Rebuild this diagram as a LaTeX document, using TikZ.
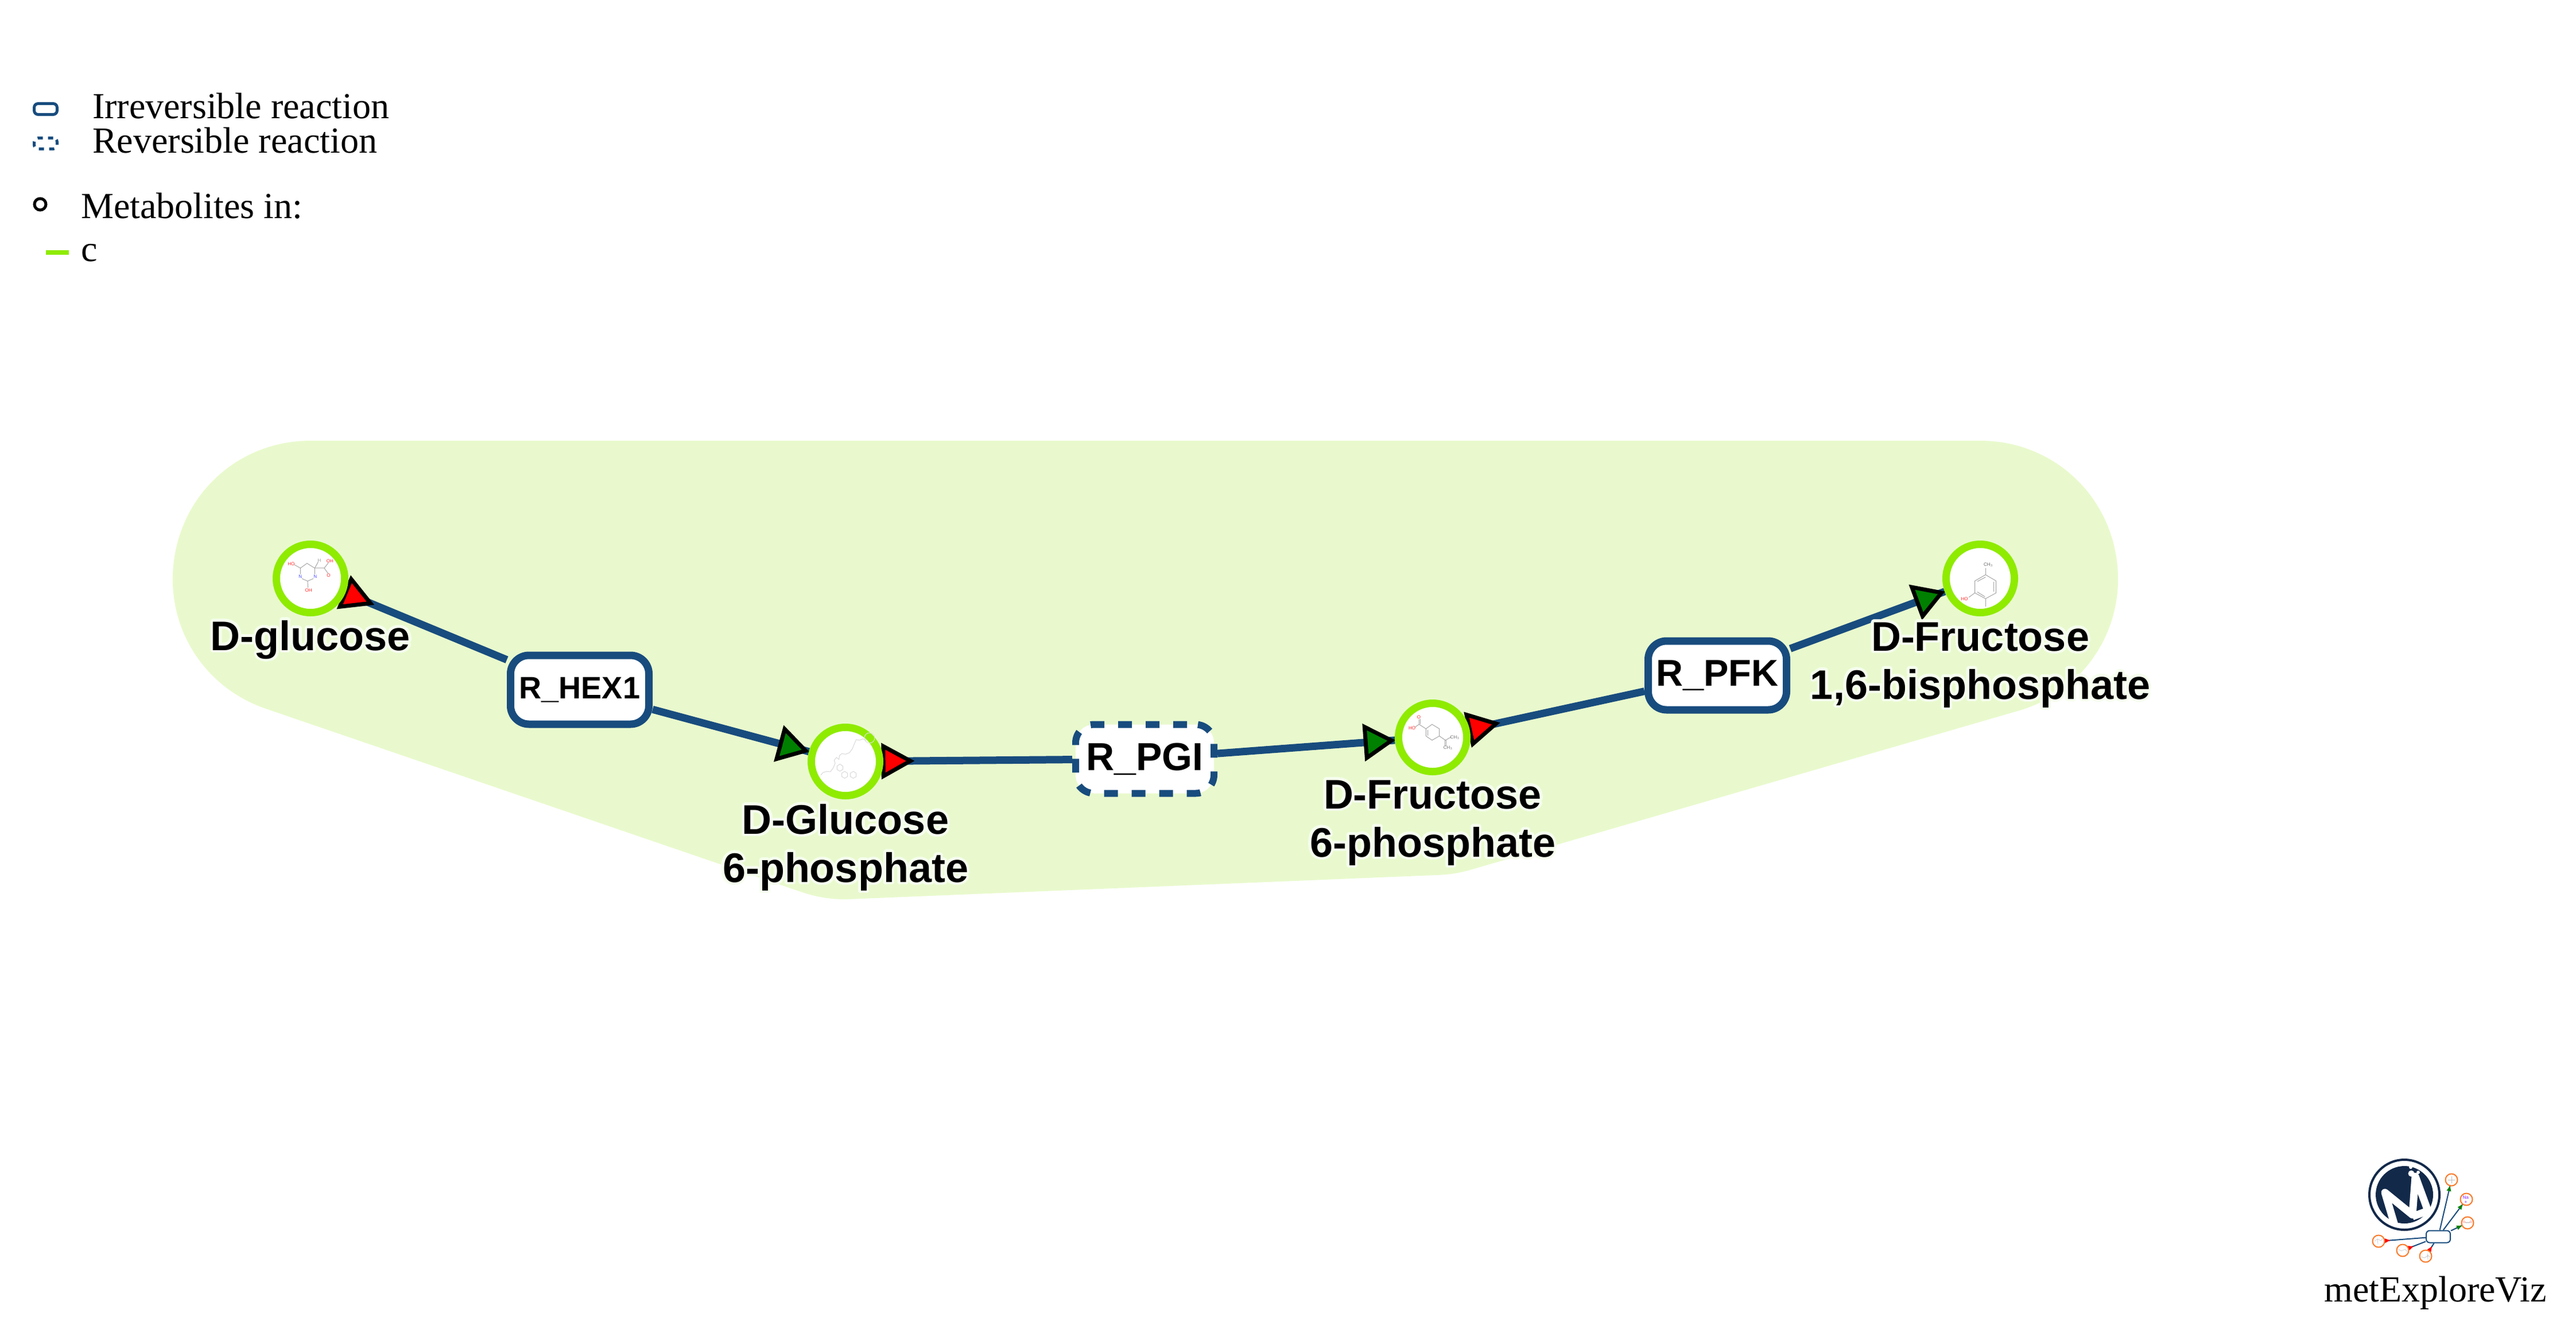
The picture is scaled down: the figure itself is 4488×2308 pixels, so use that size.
\documentclass[tikz,border=0pt]{standalone}
\usepackage{fontspec}
\usepackage{contour}
\setmainfont{Liberation Serif}
\setsansfont{Liberation Sans}
\usetikzlibrary{calc,backgrounds}
\contourlength{4.5pt}
\contournumber{32}

\definecolor{hullgreen}{HTML}{E9F9CD}
\definecolor{metgreen}{HTML}{8FEB00}
\definecolor{reacblue}{HTML}{184C7E}
\definecolor{halowhite}{HTML}{F6FFEE}
\definecolor{lognavy}{HTML}{12294A}
\definecolor{logorange}{HTML}{F97A2A}
\definecolor{atomred}{HTML}{FF2A2A}
\definecolor{atomblue}{HTML}{4A4AFF}
\definecolor{atompurple}{HTML}{AB5CFF}

\tikzset{
  metab/.style={circle,draw=metgreen,fill=white,line width=13pt,minimum size=119pt,inner sep=0pt},
  reac/.style={rectangle,draw=reacblue,fill=white,line width=13pt,rounded corners=32pt,minimum width=241pt,minimum height=120pt,inner sep=0pt,font=\sffamily\bfseries},
  reacrev/.style={reac,line width=12pt,dash pattern=on 24pt off 24pt,dash phase=33pt},
  link/.style={draw=reacblue,line width=13pt},
  hull/.style={draw=hullgreen,fill=hullgreen,line width=480pt,line join=round},
  headred/.style={draw=black,fill=red,line width=7pt,miter limit=10},
  headgreen/.style={draw=black,fill=green!50!black,line width=7pt,miter limit=10},
  lab/.style={font=\sffamily\bfseries\fontsize{72}{84}\selectfont,align=center,inner sep=0pt},
  leg/.style={font=\fontsize{64}{70}\selectfont,anchor=base west,inner sep=0pt},
  legbox/.style={rectangle,draw=reacblue,line width=5pt,rounded corners=7pt,minimum width=40pt,minimum height=19pt,inner sep=0pt},
  bond/.style={draw=black!35,line width=1pt},
  atom/.style={font=\sffamily\fontsize{8}{8}\selectfont,inner sep=0pt},
  minimet/.style={circle,draw=logorange,fill=white,line width=2pt,minimum size=21pt,inner sep=0pt},
  minilink/.style={draw=reacblue,line width=2pt}
}

% triangles on the links, first argument is the metabolite
\newcommand{\headout}[2]{\draw[headred] ($(#1.center)!66pt!(#2.center)!26pt!90:(#2.center)$) -- ($(#1.center)!66pt!(#2.center)!26pt!-90:(#2.center)$) -- ($(#1.center)!113pt!(#2.center)$) -- cycle;}
\newcommand{\headin}[2]{\draw[headgreen] ($(#1.center)!117pt!(#2.center)!27pt!90:(#2.center)$) -- ($(#1.center)!117pt!(#2.center)!27pt!-90:(#2.center)$) -- ($(#1.center)!72pt!(#2.center)$) -- cycle;}
\newcommand{\miniout}[2]{\fill[red] ($(#1.center)!11pt!(#2.center)!4pt!90:(#2.center)$) -- ($(#1.center)!11pt!(#2.center)!4pt!-90:(#2.center)$) -- ($(#1.center)!20pt!(#2.center)$) -- cycle;}
\newcommand{\miniin}[2]{\fill[green!50!black] ($(#1.center)!20pt!(#2.center)!4pt!90:(#2.center)$) -- ($(#1.center)!20pt!(#2.center)!4pt!-90:(#2.center)$) -- ($(#1.center)!11pt!(#2.center)$) -- cycle;}

\begin{document}
\begin{tikzpicture}[x=1pt,y=-1pt]
\useasboundingbox (0,0) rectangle (4488,2308);

% legend
\node[legbox] (legirr) at (79.5,190) {};
\node[legbox,dash pattern=on 9pt off 9pt] (legrev) at (79.5,250) {};
\node[circle,draw=black,line width=5pt,minimum size=20pt,inner sep=0pt] (legmet) at (70,356) {};
\node[rectangle,fill=metgreen,minimum width=40pt,minimum height=8pt,inner sep=0pt] (legc) at (100,440) {};
\node[leg] (txtirr) at (161,206) {Irreversible reaction};
\node[leg] (txtrev) at (161,266) {Reversible reaction};
\node[leg] (txtmet) at (141,380) {Metabolites in:};
\node[leg] (txtc) at (141,455) {c};

% metabolites
\node[metab] (glc) at (541,1008) {};
\node[metab] (gsix) at (1473,1327) {};
\node[metab] (fsix) at (2496,1285) {};
\node[metab] (fbis) at (3450,1008) {};

% reactions
\node[reac,font=\sffamily\bfseries\fontsize{54}{54}\selectfont] (hex) at (1010,1202) {R\_HEX1};
\node[reacrev,font=\sffamily\bfseries\fontsize{68}{68}\selectfont] (pgi) at (1994.5,1322.5) {R\_PGI};
\node[reac,font=\sffamily\bfseries\fontsize{65}{65}\selectfont] (pfk) at (2992,1177) {R\_PFK};

\begin{scope}[on background layer]
\draw[hull] (glc.center) -- (gsix.center) -- (fsix.center) -- (fbis.center) -- cycle;

\draw[link] (glc) -- (hex);
\draw[link] (hex) -- (gsix);
\draw[link] (gsix) -- (pgi);
\draw[link] (pgi) -- (fsix);
\draw[link] (fsix) -- (pfk);
\draw[link] (pfk) -- (fbis);

\headout{glc}{hex}
\headin{gsix}{hex}
\headout{gsix}{pgi}
\headin{fsix}{pgi}
\headout{fsix}{pfk}
\headin{fbis}{pfk}
\end{scope}

% structures inside the metabolites
\begin{scope}[shift={(490,960)},x=0.333pt,y=-0.333pt]
\draw[bond] (100,90) -- (135,65) -- (175,90) -- (175,122);
\draw[bond] (168,145) -- (138,158) -- (108,145);
\draw[bond] (100,122) -- (100,90) -- (68,72);
\draw[bond] (138,158) -- (140,192);
\draw[bond] (175,90) -- (225,90) -- (247,62);
\draw[bond] (225,90) -- (245,118);
\draw[bond] (175,90) -- (193,58);
\node[atom,text=atomred] (aa) at (52,68) {HO};
\node[atom,text=atomblue] (ab) at (100,135) {N};
\node[atom,text=atomblue] (ac) at (178,135) {N};
\node[atom,text=atomred] (ad) at (143,205) {OH};
\node[atom,text=black!40] (ae) at (200,50) {H};
\node[atom,text=atomred] (af) at (255,52) {OH};
\node[atom,text=atomred] (ag) at (248,128) {O};
\end{scope}

\begin{scope}[shift={(1420,1275)},x=0.333pt,y=-0.333pt]
\draw[bond,draw=black!12] (285,33) circle (27);
\draw[bond,draw=black!15] (268,45) -- (250,38) -- (232,45) -- (215,42) -- (205,65) -- (195,90) -- (180,110) -- (160,118) -- (140,115) -- (128,125) -- (125,145) -- (112,135) -- (100,150) -- (105,165) -- (95,190) -- (80,210) -- (60,208) -- (40,215) -- (30,228);
\draw[bond,draw=black!15] (130,170) -- (145,180) -- (145,198) -- (130,207) -- (115,198) -- (115,180) -- cycle;
\draw[bond,draw=black!15] (155,208) -- (170,217) -- (170,235) -- (155,244) -- (140,235) -- (140,217) -- cycle;
\draw[bond,draw=black!15] (200,208) -- (215,217) -- (215,235) -- (200,244) -- (185,235) -- (185,217) -- cycle;
\end{scope}

\begin{scope}[shift={(2440,1230)},x=0.333pt,y=-0.333pt]
\draw[bond] (133,120) -- (165,97) -- (203,120) -- (203,158) -- (165,180) -- (133,158) -- cycle;
\draw[bond] (143,125) -- (143,155);
\draw[bond] (133,120) -- (97,97) -- (97,70);
\draw[bond] (103,97) -- (103,70);
\draw[bond] (97,97) -- (75,112);
\draw[bond] (203,158) -- (235,180) -- (265,163);
\draw[bond] (232,180) -- (232,210);
\draw[bond] (238,180) -- (238,210);
\node[atom,text=atomred] (ba) at (96,60) {O};
\node[atom,text=atomred] (bb) at (60,117) {HO};
\node[atom,text=black!55] (bc) at (284,165) {CH$_3$};
\node[atom,text=black!55] (bd) at (248,220) {CH$_3$};
\end{scope}

\begin{scope}[shift={(3400,955)},x=0.333pt,y=-0.333pt]
\draw[bond] (178,140) -- (233,172) -- (233,235) -- (178,265) -- (122,235) -- (122,172) -- cycle;
\draw[bond] (135,175) -- (178,152);
\draw[bond] (222,178) -- (222,228);
\draw[bond] (135,230) -- (175,255);
\draw[bond] (178,140) -- (178,105);
\draw[bond] (178,265) -- (178,305);
\draw[bond] (122,235) -- (90,258);
\node[atom,text=black!60] (ca) at (192,88) {CH$_3$};
\node[atom,text=atomred] (cb) at (68,267) {HO};
\end{scope}

% labels
\node[lab,anchor=base] (labglc) at (541,1133) {\contour{halowhite}{D-glucose}};
\node[lab,anchor=center] (labgsix) at (1473,1479) {\contour{halowhite}{D-Glucose}\\\contour{halowhite}{6-phosphate}};
\node[lab,anchor=center] (labfsix) at (2496,1436) {\contour{halowhite}{D-Fructose}\\\contour{halowhite}{6-phosphate}};
\node[lab,anchor=center] (labfbis) at (3450,1161) {\contour{halowhite}{D-Fructose}\\\contour{halowhite}{1,6-bisphosphate}};

% logo
\draw[lognavy,line width=4pt] (4189,2082) circle (61);
\fill[lognavy] (4189,2082) circle (50);
\begin{scope}
\clip (4189,2082) circle (58);
\draw[white,line width=13pt,line join=round] (4172,2135) -- (4155,2078) -- (4203,2117) -- (4208,2050) -- (4230,2110) -- (4203,2120);
\end{scope}
\fill[white] (4201,2045) circle (5.5) (4200,2034) circle (3) (4213,2043) circle (3);

\node[rectangle,draw=reacblue,fill=white,line width=2pt,rounded corners=6pt,minimum width=42pt,minimum height=21pt,inner sep=0pt] (minirc) at (4248,2155) {};
\node[minimet] (ma) at (4271,2056) {};
\node[minimet] (mb) at (4297,2090) {};
\node[minimet] (mc) at (4299,2131) {};
\node[minimet] (md) at (4144,2163) {};
\node[minimet] (me) at (4186,2179) {};
\node[minimet] (mf) at (4226,2189) {};

\begin{scope}[on background layer]
\foreach \m in {ma,mb,mc,md,me,mf}
  \draw[minilink] (minirc) -- (\m);
\miniin{ma}{minirc}
\miniin{mb}{minirc}
\miniin{mc}{minirc}
\miniout{md}{minirc}
\miniout{me}{minirc}
\miniout{mf}{minirc}
\end{scope}

\draw[black!25,line width=0.5pt] (4265,2056) -- (4277,2056) (4271,2050) -- (4271,2062);
\node[font=\sffamily\bfseries\fontsize{8}{8}\selectfont,text=atompurple,inner sep=0pt] (na) at (4296,2087) {Na};
\node[font=\sffamily\bfseries\fontsize{8}{8}\selectfont,text=atompurple,inner sep=0pt] (nb) at (4296,2095) {+};
\draw[black!30,line width=0.5pt] (4295,2130) -- (4303,2130);
\node[font=\sffamily\fontsize{5}{5}\selectfont,text=atomred,inner sep=0pt] (oa) at (4293,2130) {O};
\node[font=\sffamily\fontsize{5}{5}\selectfont,text=atomred,inner sep=0pt] (ob) at (4305,2130) {O};
\draw[black!25,line width=0.5pt] (4137,2163) -- (4142,2159) -- (4148,2162) -- (4152,2158) (4142,2159) -- (4143,2168);
\draw[black!25,line width=0.5pt] (4178,2177) -- (4184,2180) -- (4190,2177) -- (4194,2181);
\draw[black!30,line width=0.5pt] (4218,2190) -- (4224,2192) -- (4230,2188) -- (4234,2191) (4229,2184) -- (4230,2195);

\node[leg] (logotxt) at (4049,2268) {metExploreViz};

\end{tikzpicture}
\end{document}
